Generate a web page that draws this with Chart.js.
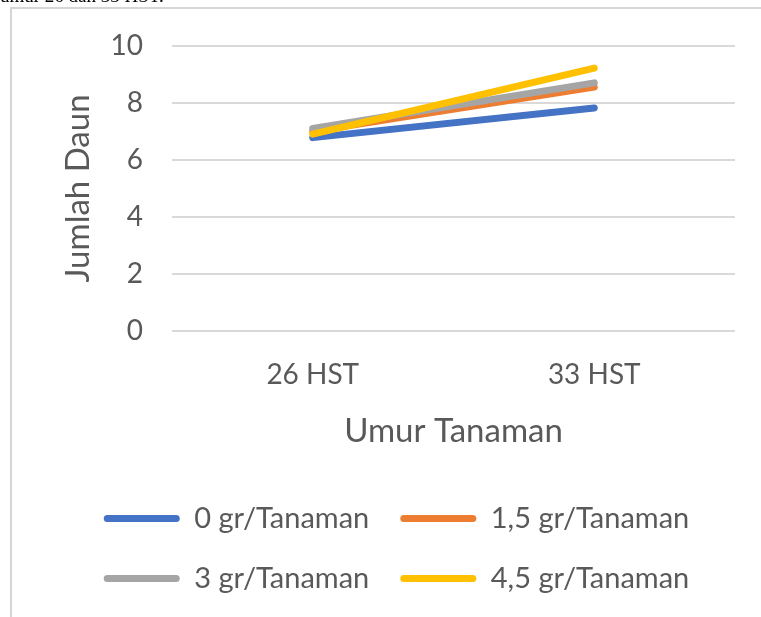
<!DOCTYPE html>
<html>
<head>
<meta charset="utf-8">
<script src="https://cdn.jsdelivr.net/npm/chart.js@4"></script>
<style>
  html, body { margin: 0; padding: 0; background: #fff; overflow: hidden; }
  #wrap { position: absolute; left: 0; top: 0; width: 761px; height: 617px; }
  #frame { position: absolute; left: 10px; top: 7px; width: 780px; height: 640px;
           border-left: 2px solid #d6d6d6; border-top: 2px solid #d6d6d6; pointer-events: none; }
  #cap { position: absolute; left: 0; top: -15px; font-family: "Liberation Serif", serif; font-size: 19px; color: #000; white-space: nowrap; }
</style>
</head>
<body>
<div id="wrap">
  <div id="cap">umur 26 dan 33 HST.</div>
  <div id="frame"></div>
  <canvas id="c" width="761" height="617"></canvas>
</div>
<script>
const categories = ["26 HST", "33 HST"];
const seriesNames = ["0 gr/Tanaman", "1,5 gr/Tanaman", "3 gr/Tanaman", "4,5 gr/Tanaman"];
const s0 = [6.78, 7.82];
const s15 = [7.00, 8.55];
const s3 = [7.10, 8.70];
const s45 = [6.90, 9.22];
const yTicks = [0, 2, 4, 6, 8, 10];
const colors = ["#4472C4", "#ED7D31", "#A5A5A5", "#FFC000"];
const FONT = "Lato";
const TXT = "#595959";

const values = [s0, s15, s3, s45];
const datasets = values.map((v, i) => ({
  label: seriesNames[i],
  data: v,
  borderColor: colors[i],
  backgroundColor: colors[i],
  borderWidth: 7,
  borderCapStyle: "round",
  pointRadius: 0,
  pointHoverRadius: 0,
  fill: false,
  tension: 0,
  order: 4 - i
}));

new Chart(document.getElementById("c"), {
  type: "line",
  data: { labels: categories, datasets },
  options: {
    responsive: false,
    animation: false,
    events: [],
    layout: { padding: { left: 58, right: 26, top: 43, bottom: 14 } },
    scales: {
      x: {
        offset: true,
        grid: { display: false },
        border: { display: false },
        ticks: { color: TXT, font: { family: FONT, size: 28 }, padding: 19 },
        title: { display: true, text: "Umur Tanaman", color: TXT, font: { family: FONT, size: 33 }, padding: { top: 4, bottom: 22 } },
        afterFit: (s) => { s.height = 142; }
      },
      y: {
        min: 0, max: 10,
        afterBuildTicks: (s) => { s.ticks = yTicks.map(v => ({ value: v })); },
        grid: { color: "#d9d9d9", lineWidth: 2, drawTicks: false },
        border: { display: false },
        ticks: { color: TXT, font: { family: FONT, size: 28 }, padding: 29 },
        title: { display: true, text: "Jumlah Daun", color: TXT, font: { family: FONT, size: 33 }, padding: { top: 1, bottom: 0 } },
        afterFit: (s) => { s.width = 114; }
      }
    },
    plugins: {
      tooltip: { enabled: false },
      legend: {
        position: "bottom",
        labels: {
          color: TXT,
          font: { family: FONT, size: 29 },
          boxWidth: 76,
          boxHeight: 7,
          padding: 31,
          useBorderRadius: true,
          borderRadius: 3.5,
          sort: (a, b) => a.datasetIndex - b.datasetIndex,
          generateLabels: (chart) => chart.data.datasets.map((d, i) => ({
            text: d.label,
            fillStyle: d.borderColor,
            strokeStyle: d.borderColor,
            lineWidth: 0,
            borderRadius: 3.5,
            fontColor: TXT,
            hidden: false,
            datasetIndex: i
          }))
        }
      }
    }
  }
});
</script>
</body>
</html>
